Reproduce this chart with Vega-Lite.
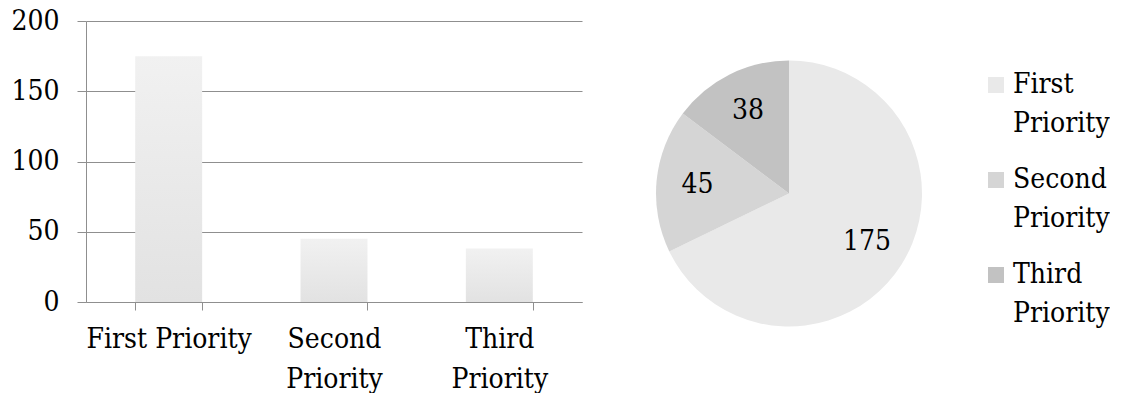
{
  "$schema": "https://vega.github.io/schema/vega-lite/v6.json",
  "padding": {"left": 10, "top": 7, "right": 0, "bottom": 0},
  "background": "white",
  "config": {"view": {"stroke": null}, "font": "DejaVu Serif Condensed", "concat": {"spacing": 57}},
  "datasets": {
    "d": [
      {"category": "First Priority", "value": 175},
      {"category": "Second Priority", "value": 45},
      {"category": "Third Priority", "value": 38}
    ]
  },
  "hconcat": [
    {
      "width": 496,
      "height": 281,
      "data": {"name": "d"},
      "mark": {
        "type": "bar",
        "fill": {"gradient": "linear", "x1": 0, "y1": 0, "x2": 0, "y2": 1,
          "stops": [{"offset": 0, "color": "#f1f1f1"}, {"offset": 1, "color": "#e2e2e2"}]}
      },
      "encoding": {
        "x": {
          "field": "category", "type": "nominal", "sort": null,
          "scale": {"paddingInner": 0.595, "paddingOuter": 0.2975},
          "axis": {
            "title": null, "labelAngle": 0, "tickBand": "extent",
            "domainColor": "#8f8f8f", "tickColor": "#8f8f8f", "tickSize": 8,
            "labelPadding": 15, "labelFontSize": 28, "labelColor": "black",
            "labelFont": "DejaVu Serif Condensed",
            "labelExpr": "datum.label == 'First Priority' ? datum.label : split(datum.label, ' ')",
            "labelLineHeight": 40, "labelLimit": 0, "labelBaseline": "top"
          }
        },
        "y": {
          "field": "value", "type": "quantitative",
          "scale": {"domain": [0, 200]},
          "axis": {
            "title": null, "values": [0, 50, 100, 150, 200],
            "tickSize": 9, "labelPadding": 18, "labelFontSize": 28,
            "labelColor": "black", "labelFont": "DejaVu Serif Condensed",
            "gridColor": "#8f8f8f", "domainColor": "#8f8f8f", "tickColor": "#8f8f8f"
          }
        }
      }
    },
    {
      "width": 300,
      "height": 345,
      "data": {"name": "d"},
      "encoding": {
        "theta": {"field": "value", "type": "quantitative", "stack": true},
        "order": {"field": "value", "type": "quantitative", "sort": "descending"},
        "color": {
          "field": "category", "type": "nominal", "sort": null,
          "scale": {"range": ["#e9e9e9", "#d5d5d5", "#c2c2c2"]},
          "legend": {
            "title": null, "orient": "none", "legendX": 896, "legendY": 50,
            "symbolType": "square", "symbolSize": 256, "symbolStrokeWidth": 0,
            "labelFontSize": 28, "labelFont": "DejaVu Serif Condensed", "labelColor": "black",
            "labelExpr": "split(datum.label, ' ')",
            "rowPadding": 28, "labelOffset": 3, "labelLimit": 0,
            "encode": {"labels": {"update": {"lineHeight": {"value": 39}}}}
          }
        }
      },
      "layer": [
        {"mark": {"type": "arc", "radius": 133}},
        {
          "mark": {"type": "text", "radius": 92, "fontSize": 28, "font": "DejaVu Serif Condensed"},
          "encoding": {
            "text": {"field": "value", "type": "quantitative"},
            "color": {"value": "black"}
          }
        }
      ]
    }
  ]
}
